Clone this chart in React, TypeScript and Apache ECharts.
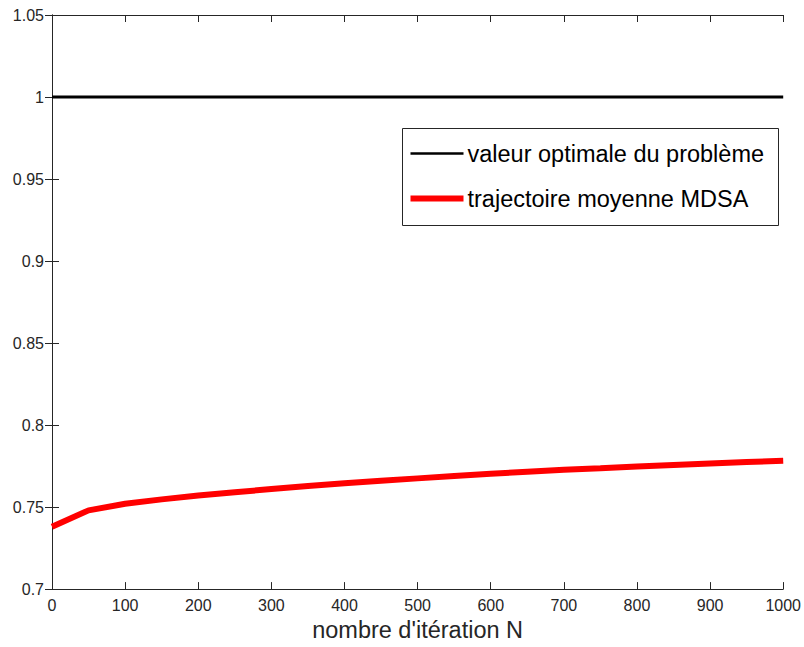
import React, { useEffect, useRef } from "react";
import * as echarts from "echarts";

const iterations = [0, 50, 100, 150, 200, 250, 300, 350, 400, 450, 500, 550, 600, 650, 700, 750, 800, 850, 900, 950, 1000];
const mdsaValues = [0.738, 0.748, 0.752, 0.7547, 0.757, 0.759, 0.761, 0.7628, 0.7645, 0.766, 0.7675, 0.769, 0.7703, 0.7715, 0.7727, 0.7737, 0.7748, 0.7757, 0.7766, 0.7775, 0.7782];
const optimalX = [0, 1000];
const optimalValue = 1;
const legendLabels = ["valeur optimale du problème", "trajectoire moyenne MDSA"];
const xAxisName = "nombre d'itération N";

const FONT = "'Liberation Sans', Arial, Helvetica, sans-serif";
const AXIS_COLOR = "#262626";

export default function App() {
  const ref = useRef<HTMLDivElement>(null);
  useEffect(() => {
    if (!ref.current) return;
    const chart = echarts.init(ref.current, undefined, { renderer: "svg" });
    const axisCommon = {
      axisLine: { show: true, lineStyle: { color: AXIS_COLOR, width: 1 } },
      axisTick: { show: true, inside: true, length: 7, lineStyle: { color: AXIS_COLOR } },
      splitLine: { show: false },
    };
    const fmt = (v: number) => String(+v.toFixed(2));
    chart.setOption({
      animation: false,
      backgroundColor: "#ffffff",
      grid: { left: 52, top: 15, right: 19, bottom: 53, containLabel: false },
      xAxis: [
        {
          type: "value", min: 0, max: 1000, interval: 100, position: "bottom",
          ...axisCommon,
          axisLabel: { color: AXIS_COLOR, fontSize: 16, fontFamily: FONT, margin: 8, formatter: fmt },
          name: xAxisName, nameLocation: "middle", nameGap: 38,
          nameTextStyle: { color: AXIS_COLOR, fontSize: 23.5, fontFamily: FONT, verticalAlign: "middle" },
        },
        {
          type: "value", min: 0, max: 1000, interval: 100, position: "top",
          ...axisCommon, axisLabel: { show: false },
        },
      ],
      yAxis: [
        {
          type: "value", min: 0.7, max: 1.05, interval: 0.05, position: "left",
          ...axisCommon,
          axisLabel: { color: AXIS_COLOR, fontSize: 16, fontFamily: FONT, margin: 8, formatter: fmt },
        },
        {
          type: "value", min: 0.7, max: 1.05, interval: 0.05, position: "right",
          ...axisCommon, axisLabel: { show: false },
        },
      ],
      series: [
        {
          name: legendLabels[0], type: "line", xAxisIndex: 0, yAxisIndex: 0,
          data: optimalX.map((x) => [x, optimalValue]),
          symbol: "none", lineStyle: { color: "#000000", width: 3 }, clip: false,
        },
        {
          name: legendLabels[1], type: "line", xAxisIndex: 0, yAxisIndex: 0,
          data: iterations.map((x, i) => [x, mdsaValues[i]]),
          symbol: "none", lineStyle: { color: "#ff0000", width: 6 }, clip: false,
        },
      ],
      graphic: [
        {
          type: "group", left: 402, top: 128,
          children: [
            { type: "rect", shape: { x: 0, y: 0, width: 376, height: 97 }, style: { fill: "#ffffff", stroke: AXIS_COLOR, lineWidth: 1 } },
            { type: "line", shape: { x1: 8, y1: 25, x2: 61, y2: 25 }, style: { stroke: "#000000", lineWidth: 2.5 } },
            { type: "text", x: 65, y: 25, style: { text: legendLabels[0], fill: "#000000", font: `23.5px ${FONT}`, textVerticalAlign: "middle", verticalAlign: "middle" } },
            { type: "line", shape: { x1: 8, y1: 70, x2: 61, y2: 70 }, style: { stroke: "#ff0000", lineWidth: 6 } },
            { type: "text", x: 65, y: 70, style: { text: legendLabels[1], fill: "#000000", font: `23.5px ${FONT}`, textVerticalAlign: "middle", verticalAlign: "middle" } },
          ],
        },
      ],
    });
    return () => chart.dispose();
  }, []);
  return <div ref={ref} style={{ width: 804, height: 647, position: "absolute", left: 0, top: 0 }} />;
}
